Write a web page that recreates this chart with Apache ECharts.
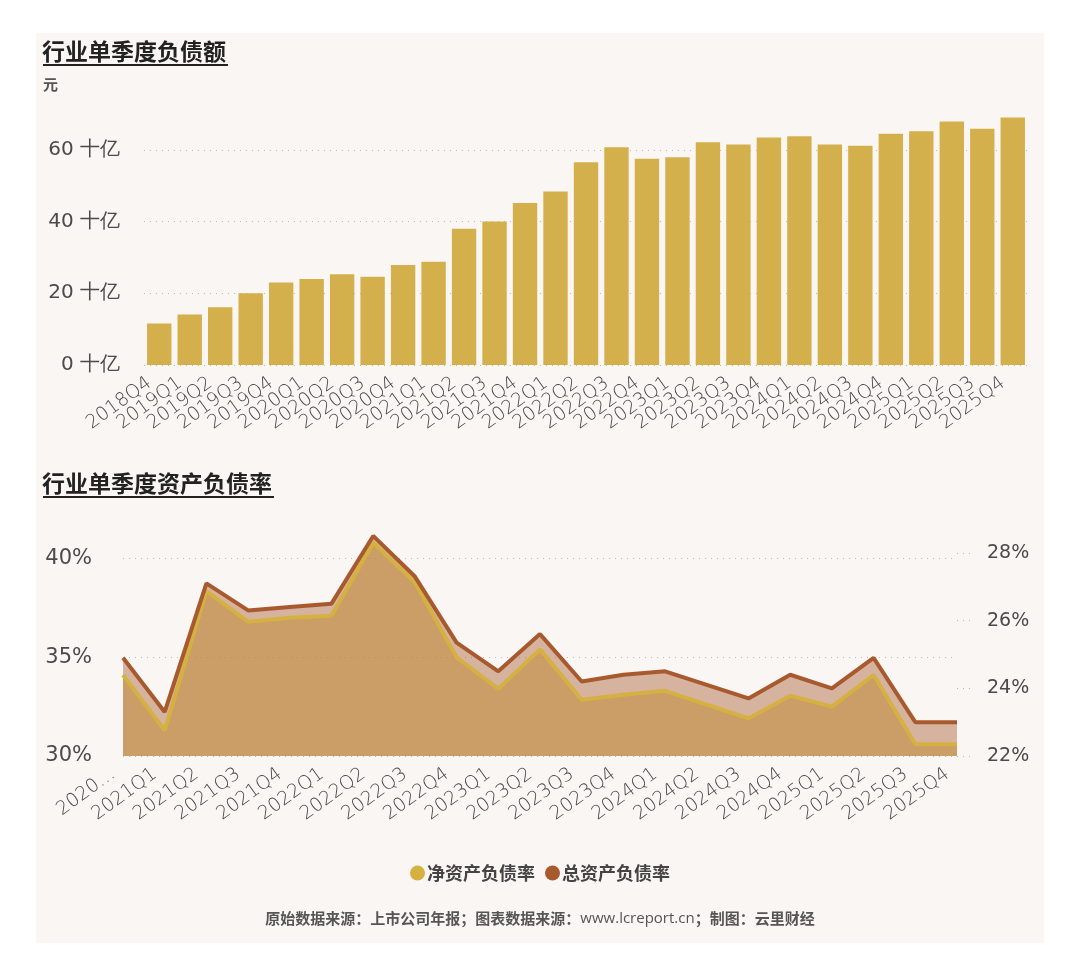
<!DOCTYPE html>
<html>
<head>
<meta charset="utf-8">
<script src="https://cdn.jsdelivr.net/npm/echarts@6/dist/echarts.min.js"></script>
<style>
  html, body { margin: 0; padding: 0; background: #ffffff; }
  #main { width: 1080px; height: 978px; }
</style>
</head>
<body>
<div id="main"></div>
<script>
// 行业单季度负债额（十亿元）
var debtQuarters = ['2018Q4', '2019Q1', '2019Q2', '2019Q3', '2019Q4', '2020Q1', '2020Q2', '2020Q3', '2020Q4',
    '2021Q1', '2021Q2', '2021Q3', '2021Q4', '2022Q1', '2022Q2', '2022Q3', '2022Q4', '2023Q1', '2023Q2',
    '2023Q3', '2023Q4', '2024Q1', '2024Q2', '2024Q3', '2024Q4', '2025Q1', '2025Q2', '2025Q3', '2025Q4'];
var debtValues = [11.6, 14.1, 16.1, 20.0, 23.0, 24.0, 25.3, 24.6, 27.9, 28.8, 38.0, 40.0, 45.2, 48.4, 56.5,
    60.7, 57.5, 57.9, 62.1, 61.5, 63.4, 63.8, 61.5, 61.1, 64.5, 65.2, 67.9, 65.9, 69.0];

// 行业单季度资产负债率（%）
var rateQuarters = ['2020Q4', '2021Q1', '2021Q2', '2021Q3', '2021Q4', '2022Q1', '2022Q2', '2022Q3', '2022Q4',
    '2023Q1', '2023Q2', '2023Q3', '2023Q4', '2024Q1', '2024Q2', '2024Q3', '2024Q4', '2025Q1', '2025Q2',
    '2025Q3', '2025Q4'];
var netRatio = [34.1, 31.3, 38.35, 36.8, 37.0, 37.1, 40.8, 38.8, 35.0, 33.4, 35.4, 32.85, 33.1, 33.3, 32.6,
    31.9, 33.05, 32.5, 34.1, 30.6, 30.6];
var totalRatio = [24.9, 23.3, 27.1, 26.3, 26.4, 26.5, 28.5, 27.3, 25.35, 24.5, 25.6, 24.2, 24.4, 24.5, 24.1,
    23.7, 24.4, 24.0, 24.9, 23.0, 23.0];

var leftTicks = [30, 35, 40];
var rightTicks = [22, 24, 26, 28];

var yellow = '#d5b142';
var brown = '#a85a2e';
var labelFont = 'DejaVu Sans';
var cjkFont = '"Noto Sans CJK SC"';

var myChart = echarts.init(document.getElementById('main'));

var dotted = { color: '#bdbab6', type: [1, 5], width: 1 };

var option = {
    backgroundColor: '#ffffff',
    animation: false,
    graphic: [
        { type: 'rect', z: -10, silent: true, shape: { x: 36, y: 33, width: 1008, height: 910 }, style: { fill: '#faf6f3' } },
        { type: 'text', left: 42, top: 40, style: { text: '行业单季度负债额', font: 'bold 23px ' + cjkFont, fill: '#222' } },
        { type: 'rect', shape: { x: 43, y: 64, width: 185, height: 2 }, style: { fill: '#222' } },
        { type: 'text', left: 43, top: 77, style: { text: '元', font: 'bold 15px ' + cjkFont, fill: '#555' } },
        { type: 'text', left: 42, top: 472, style: { text: '行业单季度资产负债率', font: 'bold 23px ' + cjkFont, fill: '#222' } },
        { type: 'rect', shape: { x: 43, y: 496, width: 231, height: 2 }, style: { fill: '#222' } },
        {
            type: 'text', left: 'center', top: 911,
            style: {
                text: '{b|原始数据来源：上市公司年报；图表数据来源：}{n|www.lcreport.cn}{b|；制图：云里财经}',
                rich: {
                    b: { fontFamily: cjkFont, fontWeight: 'bold', fontSize: 15, fill: '#555', color: '#555' },
                    n: { fontFamily: 'Open Sans', fontSize: 15, fill: '#555', color: '#555' }
                }
            }
        }
    ],
    legend: {
        data: ['净资产负债率', '总资产负债率'],
        left: 'center',
        top: 859,
        icon: 'circle',
        itemWidth: 15,
        itemHeight: 15,
        itemGap: 10,
        textStyle: { fontFamily: cjkFont, fontWeight: 'bold', fontSize: 18, color: '#444', padding: [0, 0, 0, -3] }
    },
    grid: [
        { left: 144, right: 52, top: 96, height: 269 },
        { left: 123, right: 123, top: 519, height: 237 }
    ],
    xAxis: [
        {
            type: 'category', gridIndex: 0, data: debtQuarters,
            axisLine: { show: false }, axisTick: { show: false },
            axisLabel: { rotate: 36, interval: 0, margin: 9, fontFamily: labelFont, fontWeight: 300, fontSize: 19, color: '#4a4a4a', padding: [0, 12, 0, 0] }
        },
        {
            type: 'category', gridIndex: 1, data: rateQuarters, boundaryGap: false,
            axisLine: { show: false }, axisTick: { show: false },
            axisLabel: {
                rotate: 36, interval: 0, margin: 9, fontFamily: labelFont, fontWeight: 300, fontSize: 19, color: '#4a4a4a', padding: [0, 12, 0, 0],
                formatter: function (v, i) { return i === 0 ? v.slice(0, 4) + '…' : v; }
            }
        }
    ],
    yAxis: [
        {
            type: 'value', gridIndex: 0, min: 0, max: 75, interval: 20,
            axisLine: { show: false }, axisTick: { show: false },
            splitLine: { lineStyle: dotted, showMaxLine: false },
            axisLabel: { margin: 24, fontFamily: labelFont, fontSize: 20, color: '#4a4a4a', showMaxLabel: false,
                formatter: function (v) { return v + ' 十亿'; } }
        },
        {
            type: 'value', gridIndex: 1, position: 'left', min: leftTicks[0], max: 42, interval: 5,
            axisLine: { show: false }, axisTick: { show: false },
            splitLine: { lineStyle: dotted, showMaxLine: false },
            axisLabel: { margin: 31, fontFamily: labelFont, fontSize: 21, color: '#4a4a4a', showMaxLabel: false,
                formatter: function (v) { return leftTicks.indexOf(v) >= 0 ? v + '%' : ''; } }
        },
        {
            type: 'value', gridIndex: 1, position: 'right', min: rightTicks[0], max: 29, interval: 2,
            axisLine: { show: false },
            axisTick: { show: true, length: 18, lineStyle: { color: '#bdbab6', type: [1, 5] } },
            splitLine: { show: false },
            axisLabel: { margin: 30, fontFamily: labelFont, fontSize: 19, color: '#4a4a4a', showMaxLabel: false,
                formatter: function (v) { return rightTicks.indexOf(v) >= 0 ? v + '%' : ''; } }
        }
    ],
    series: [
        {
            name: '负债额', type: 'bar', xAxisIndex: 0, yAxisIndex: 0,
            data: debtValues, barCategoryGap: '20%',
            itemStyle: { color: '#d4b04c' }
        },
        {
            name: '净资产负债率', type: 'line', xAxisIndex: 1, yAxisIndex: 1, z: 2,
            data: netRatio, symbol: 'none',
            itemStyle: { color: yellow },
            lineStyle: { width: 0 },
            areaStyle: { color: yellow, opacity: 0.55 }
        },
        {
            name: '总资产负债率', type: 'line', xAxisIndex: 1, yAxisIndex: 2, z: 3,
            data: totalRatio, symbol: 'none',
            itemStyle: { color: brown },
            lineStyle: { width: 0 },
            areaStyle: { color: brown, opacity: 0.43 }
        },
        {
            name: '净资产负债率', type: 'line', xAxisIndex: 1, yAxisIndex: 1, z: 4,
            data: netRatio, symbol: 'none',
            itemStyle: { color: yellow },
            lineStyle: { width: 4, color: yellow }
        },
        {
            name: '总资产负债率', type: 'line', xAxisIndex: 1, yAxisIndex: 2, z: 5,
            data: totalRatio, symbol: 'none',
            itemStyle: { color: brown },
            lineStyle: { width: 4, color: brown }
        }
    ]
};
myChart.setOption(option);
</script>
</body>
</html>
